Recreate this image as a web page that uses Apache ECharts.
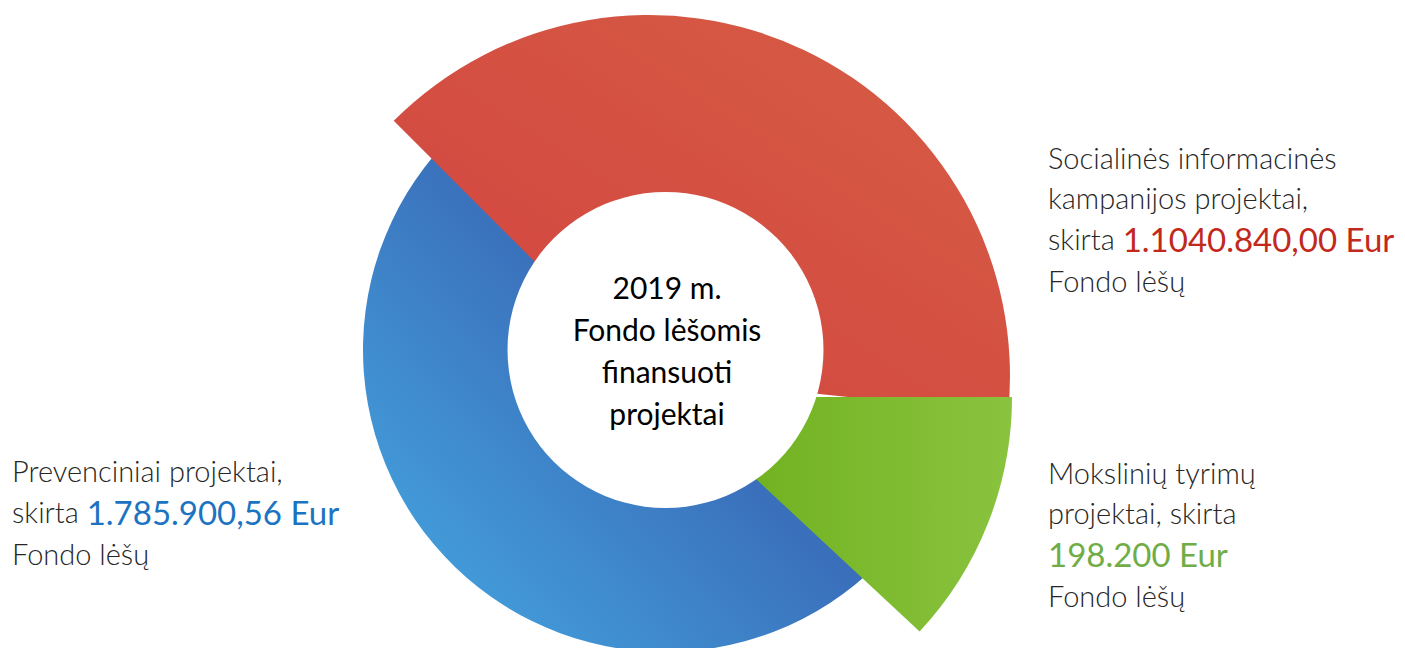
<!DOCTYPE html>
<html>
<head>
<meta charset="utf-8">
<title>2019 m. Fondo lėšomis finansuoti projektai</title>
<script src="https://cdn.jsdelivr.net/npm/echarts@6/dist/echarts.min.js"></script>
<style>
  html, body { margin: 0; padding: 0; background: #fff; }
  #main { width: 1405px; height: 648px; }
</style>
</head>
<body>
<div id="main"></div>
<script>
// slices: red (socialinės), green (mokslinių), blue (prevenciniai)
const categories = ['Socialinės informacinės kampanijos projektai', 'Mokslinių tyrimų projektai', 'Prevenciniai projektai'];
const amounts = ['1.1040.840,00 Eur', '198.200 Eur', '1.785.900,56 Eur'];
// sweep of each drawn slice in degrees (slices overlap a bit)
const sweepDeg = [141, 43, 190];
const startDeg = [135, 0, -45];
const labelText = [
  'Socialinės informacinės\nkampanijos projektai,\nskirta {amt}\nFondo lėšų',
  'Mokslinių tyrimų\nprojektai, skirta\n{amt}\nFondo lėšų',
  'Prevenciniai projektai,\nskirta {amt}\nFondo lėšų'
];
const centerTitle = '2019 m.\nFondo lėšomis\nfinansuoti\nprojektai';

// looks
const FONT = 'Lato, "Open Sans", sans-serif';
const amountColors = ['#C2291C', '#70AD47', '#1C73C2'];
const sliceColors = [
  new echarts.graphic.LinearGradient(0, 1, 1, 0, [{offset: 0, color: '#D2423F'}, {offset: 1, color: '#D65E45'}]),
  new echarts.graphic.LinearGradient(0, 0, 1, 0, [{offset: 0, color: '#6AAD17'}, {offset: 1, color: '#8AC33F'}]),
  new echarts.graphic.LinearGradient(0, 1, 1, 0, [
    {offset: 0, color: '#46ACE4'}, {offset: 0.55, color: '#3A6EBA'}, {offset: 1, color: '#3A62B3'}
  ])
];
const pieLayout = [
  {center: [649, 376], radius: 361, z: 2},
  {center: [668, 397], radius: 344, z: 3},
  {center: [665, 350], radius: 302, z: 1}
];
const labelPos = [[1048, 137], [1048, 452], [12, 450]];

var myChart = echarts.init(document.getElementById('main'), null, {renderer: 'svg'});

let series = categories.map(function (name, i) {
  return {
    type: 'pie',
    name: name,
    center: pieLayout[i].center,
    radius: [0, pieLayout[i].radius],
    z: pieLayout[i].z,
    startAngle: startDeg[i],
    clockwise: true,
    silent: true,
    animation: false,
    avoidLabelOverlap: false,
    label: {show: false},
    labelLine: {show: false},
    emphasis: {disabled: true},
    data: [
      {value: sweepDeg[i], name: name, itemStyle: {color: sliceColors[i]}},
      {value: 360 - sweepDeg[i], name: '', itemStyle: {color: 'rgba(0,0,0,0)'}}
    ]
  };
});

let labels = labelText.map(function (t, i) {
  return {
    type: 'text',
    x: labelPos[i][0],
    y: labelPos[i][1],
    z: 20,
    style: {
      text: t.replace('{amt}', '{a|' + amounts[i] + '}'),
      fill: '#262626',
      fontSize: 29,
      fontWeight: 300,
      fontFamily: FONT,
      lineHeight: 40,
      align: 'left',
      verticalAlign: 'top',
      rich: {
        a: {fill: amountColors[i], fontSize: 33, fontFamily: FONT, lineHeight: 43}
      }
    }
  };
});

let option = {
  backgroundColor: '#fff',
  series: series,
  graphic: [
    {type: 'circle', shape: {cx: 665.5, cy: 350, r: 158}, style: {fill: '#fff'}, z: 10, silent: true},
    {
      type: 'text', x: 667, y: 350, z: 20,
      style: {
        text: centerTitle, fill: '#000', fontSize: 30, fontFamily: FONT,
        lineHeight: 42, align: 'center', verticalAlign: 'middle'
      }
    }
  ].concat(labels)
};

myChart.setOption(option);
</script>
</body>
</html>
